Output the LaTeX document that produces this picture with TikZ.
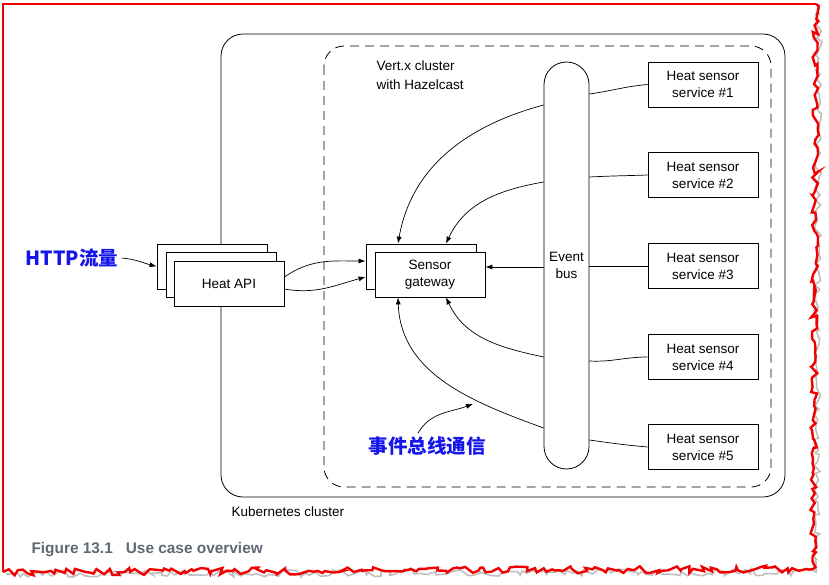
\documentclass[tikz,border=0pt]{standalone}
\usepackage{fontspec}
\setmainfont{Liberation Sans}
\newfontfamily\cjk{Noto Sans CJK SC}
\usetikzlibrary{arrows.meta,decorations.pathmorphing}
\definecolor{tagblue}{RGB}{20,20,235}
\definecolor{capgray}{RGB}{95,105,115}
\definecolor{tearred}{RGB}{240,0,0}

\begin{document}
\begin{tikzpicture}[x=1pt,y=-1pt,
  box/.style={draw,line width=0.8pt,fill=white,minimum width=110pt,minimum height=45pt,align=center,inner sep=0pt,font=\fontsize{13.5}{17}\selectfont},
  link/.style={line width=0.7pt},
  arr/.style={link,-{Latex[length=7pt,width=5pt]}},
  note/.style={text=tagblue,font=\cjk\bfseries\fontsize{19.5}{22}\selectfont},
  plain/.style={font=\fontsize{13.5}{19}\selectfont,align=left},
  tear/.style={line width=2.4pt,decorate,decoration={random steps,segment length=4.5pt,amplitude=3.5pt}}]
\useasboundingbox (0,0) rectangle (829,585);
\pgfmathsetseed{5}
\draw[black!25,tear,line width=1.6pt] (819,8) -- (816,572) -- (6,574);
\draw[tearred,line width=2.4pt] (3,572) -- (3,4) -- (816,4);
\draw[tearred,tear] (816,4) -- (813,569) -- (3,572);

\draw[line width=0.8pt,rounded corners=22pt] (221,34) rectangle (785,497);
\draw[line width=0.8pt,dash pattern=on 9pt off 6pt,rounded corners=20pt] (324,46) rectangle (771,487);

\node[box] (ap1) at (212,266.5) {};
\node[box] (ap2) at (221,274.5) {};
\node[box] (ap) at (229,283.5) {Heat API};
\node[box] (gwb) at (421,266.5) {};
\node[box] (gw) at (430,274.5) {Sensor\\gateway};
\node[draw,line width=0.8pt,rounded corners=22.5pt,minimum width=45pt,minimum height=407pt,align=center,inner sep=0pt,font=\fontsize{13.5}{17}\selectfont] (bus) at (566.5,265.5) {Event\\bus};
\foreach \i/\y in {1/84.5,2/175,3/266,4/357,5/447}
  \node[box] (s\i) at (703,\y) {Heat sensor\\service \#\i};

\node[plain,anchor=north west] (vx) at (373,57) {Vert.x cluster\\with Hazelcast};
\node[plain,anchor=west] (k8s) at (228,512) {Kubernetes cluster};
\node[anchor=west,text=capgray,font=\bfseries\fontsize{15.4}{17}\selectfont] (cap) at (28,550) {Figure 13.1\hspace{13pt}Use case overview};
\node[note] (http) at (72,258) {HTTP流量};
\node[note] (bc) at (427,446) {事件总线通信};

\draw[arr] (http.east) to[out=-5,in=165] (ap1.west);
\draw[arr] ([yshift=6.5pt]ap.east) to[out=35,in=180] ([yshift=5.5pt]gwb.west);
\draw[arr] ([yshift=-5.5pt]ap.east) to[out=-10,in=195] ([yshift=-10.5pt]gwb.west);
\draw[arr] ([yshift=-1.5pt]bus.west) -- ([yshift=7.5pt]gw.east);
\draw[arr] ([yshift=160.5pt]bus.west) to[out=195,in=80] ([xshift=-23pt]gwb.north);
\draw[arr] ([yshift=83.5pt]bus.west) to[out=190,in=65] ([xshift=25pt]gwb.north);
\draw[arr] ([yshift=-91.5pt]bus.west) to[out=168,in=-65] ([xshift=16pt]gw.south);
\draw[arr] ([yshift=-162.5pt]bus.west) to[out=160,in=-88] ([xshift=-32pt]gw.south);
\draw[arr] ([xshift=-9pt]bc.north) to[out=60,in=200] (473,404);

\draw[link] (s1.west) to[out=185,in=8] ([yshift=171.5pt]bus.east);
\draw[link] (s2.west) to[out=182,in=3] ([yshift=88.5pt]bus.east);
\draw[link] (s3.west) -- ([yshift=-0.5pt]bus.east);
\draw[link] (s4.west) to[out=180,in=-3] ([yshift=-95.5pt]bus.east);
\draw[link] (s5.west) to[out=175,in=-8] ([yshift=-174.5pt]bus.east);
\end{tikzpicture}
\end{document}
